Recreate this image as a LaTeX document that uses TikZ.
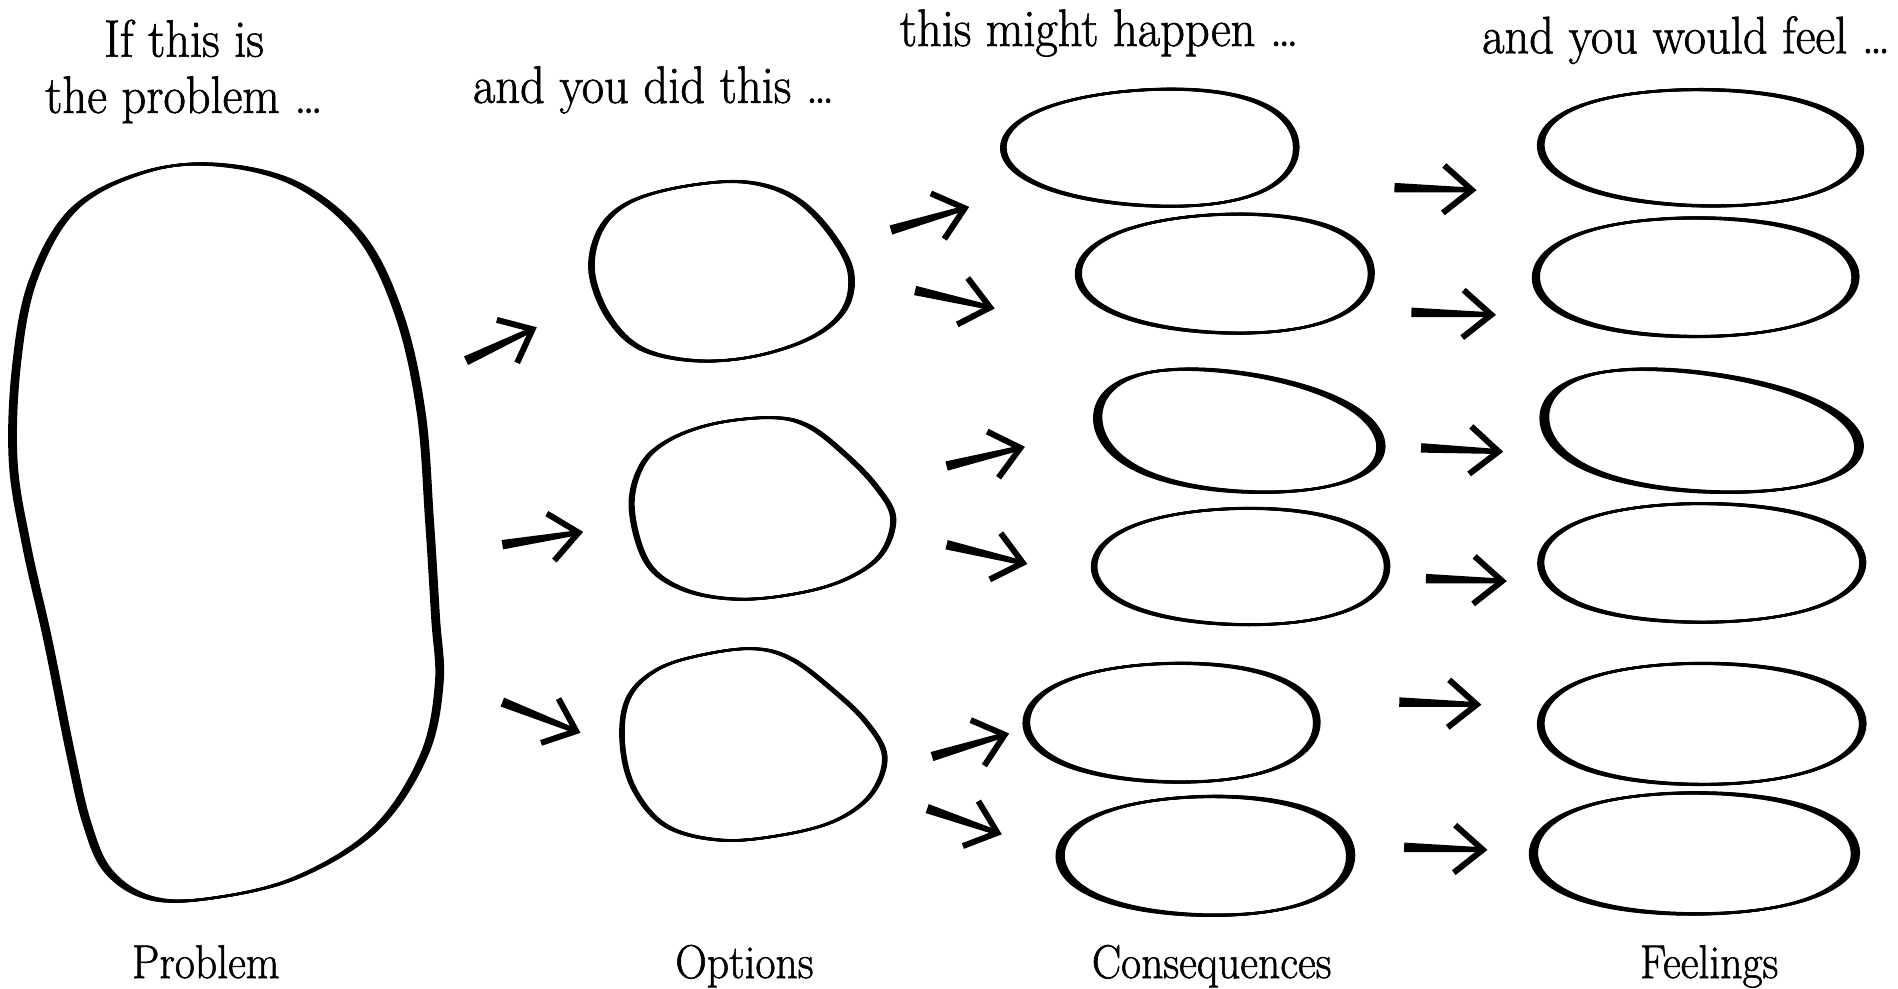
\documentclass[tikz,border=0pt]{standalone}
\usepackage{fontspec}
\setmainfont{Latin Modern Roman}[FakeStretch=0.92,FakeBold=1.2]
\usetikzlibrary{calc}
\tikzset{
  blobline/.style={line width=1.4pt, line join=round},
  barb/.style={line width=3.4pt, line join=miter, line cap=butt, miter limit=20},
  ttl/.style={font=\fontsize{30}{32}\selectfont, inner sep=0pt, align=center},
  lbl/.style={font=\fontsize{27}{30}\selectfont, inner sep=0pt, anchor=base},
}
% calligraphic outline from points: same smooth closed curve stroked with small sideways shifts
\newcommand\myblob[2][1]{%
  \foreach \s in {-1.6,-1.0,-0.4,0.2,0.8,1.4}{
    \draw[blobline, xshift=#1*\s pt, yshift=#1*0.15*\s pt] plot[smooth cycle, tension=0.6] coordinates {#2};}}
% calligraphic egg: #1 pen factor, #2 cx, #3 cy, #4 rx, #5 ry, #6 egg k, #7 shear
\newcommand\myegg[7][1]{%
  \foreach \s in {-1.6,-1.0,-0.4,0.2,0.8,1.4}{
    \draw[blobline, xshift=#1*\s pt, yshift=#1*0.15*\s pt]
      plot[domain=0:355, samples=72, smooth]
      ({#2+#4*(cos(\x)-0.015*cos(3*\x))/0.985},
       {#3-#5*(sin(\x)+0.015*sin(3*\x))/0.985*(1+#6*cos(\x))+#7*cos(\x)}) -- cycle;}}
% tapered arrow from named coordinate #1 to named coordinate #2
\newcommand\myarrow[2]{%
  \fill ($(#1)!2.7pt!90:(#2)$) -- ($(#1)!2.7pt!-90:(#2)$) -- ($(#2)!1.4pt!90:(#1)$) -- ($(#2)!1.4pt!-90:(#1)$) -- cycle;
  \draw[barb] ($(#2)!0.74cm!40:(#1)$) -- (#2) -- ($(#2)!0.74cm!-40:(#1)$);}
\begin{document}
\begin{tikzpicture}[x=0.02421cm, y=-0.02421cm]
\useasboundingbox (0,0) rectangle (1568,817);

% ---- texts
\node[ttl, anchor=north] (t1) at (152,16) {If this is\\the problem \dots};
\node[ttl, anchor=base] (t2) at (540,85) {and you did this \dots};
\node[ttl, anchor=base] (t3) at (908,38) {this might happen \dots};
\node[ttl, anchor=base] (t4) at (1393,44) {and you would feel \dots};
\node[lbl] (l1) at (170,808) {Problem};
\node[lbl] (l2) at (615,808) {Options};
\node[lbl] (l3) at (1001,808) {Consequences};
\node[lbl] (l4) at (1412,808) {Feelings};

% ---- problem
\myblob[1.2]{(11,380) (14,300) (28,230) (62,172) (120,142) (180,136) (245,152) (298,195) (330,260) (348,340) (355,430) (360,510) (363,565) (350,625) (310,685) (245,725) (175,742) (125,742) (90,720) (72,680) (58,620) (40,530) (22,450)}

% ---- options
\myblob[0.8]{(489,225) (495,192) (515,170) (550,157) (600,150) (635,154) (663,168) (688,195) (703,225) (698,255) (672,278) (625,294) (575,298) (530,288) (503,262)}
\myblob[0.7]{(522,420) (530,385) (552,364) (590,350) (638,345) (668,352) (698,375) (724,402) (738,428) (728,458) (700,478) (660,490) (610,495) (565,487) (535,465)}
\myblob[0.6]{(514,610) (520,575) (545,552) (585,540) (625,536) (655,545) (688,570) (716,597) (731,625) (720,656) (690,678) (645,690) (595,694) (550,682) (523,650)}

% ---- consequences
\myegg[0.8]{950}{122}{121}{48}{0.12}{0}
\myegg[0.9]{1012}{226}{121}{49}{0.08}{0}
\myegg[1.3]{1024}{357}{117}{49}{-0.1}{12}
\myegg[0.8]{1025}{468}{121}{48}{0.05}{0}
\myegg[1.0]{968}{597}{120}{49}{0.05}{0}
\myegg[1.3]{996}{707}{120}{49}{0.05}{0}

% ---- feelings
\myegg[1.0]{1405}{122}{132}{48}{0.03}{2}
\myegg[1.1]{1401}{229}{132}{49}{0}{0}
\myegg[1.4]{1406}{357}{130}{49}{-0.1}{12}
\myegg[0.9]{1406}{465}{133}{49}{0}{0}
\myegg[1.0]{1406}{598}{133}{50}{0}{0}
\myegg[1.3]{1400}{705}{133}{50}{0}{0}

% ---- arrow end points
\coordinate (a1s) at (385,298); \coordinate (a1e) at (440,272);
\coordinate (a2s) at (415,450); \coordinate (a2e) at (478,440);
\coordinate (a3s) at (415,580); \coordinate (a3e) at (476,604);
\coordinate (b1s) at (736,190); \coordinate (b1e) at (797,172);
\coordinate (b2s) at (756,240); \coordinate (b2e) at (818,254);
\coordinate (b3s) at (782,385); \coordinate (b3e) at (843,370);
\coordinate (b4s) at (782,450); \coordinate (b4e) at (845,465);
\coordinate (b5s) at (770,625); \coordinate (b5e) at (830,607);
\coordinate (b6s) at (766,668); \coordinate (b6e) at (824,688);
\coordinate (c1s) at (1152,155); \coordinate (c1e) at (1216,157);
\coordinate (c2s) at (1166,258); \coordinate (c2e) at (1232,260);
\coordinate (c3s) at (1174,370); \coordinate (c3e) at (1238,373);
\coordinate (c4s) at (1178,478); \coordinate (c4e) at (1241,480);
\coordinate (c5s) at (1156,580); \coordinate (c5e) at (1220,582);
\coordinate (c6s) at (1160,700); \coordinate (c6e) at (1225,702);

\foreach \n in {a1,a2,a3,b1,b2,b3,b4,b5,b6,c1,c2,c3,c4,c5,c6}
  \myarrow{\n s}{\n e};
\end{tikzpicture}
\end{document}
